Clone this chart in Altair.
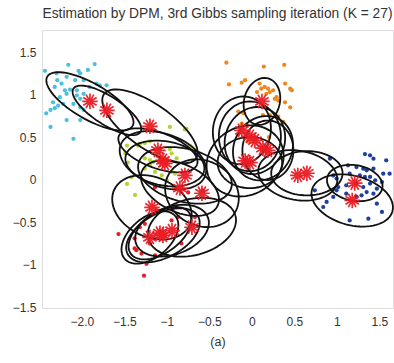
import numpy as np
import pandas as pd
import altair as alt

# ---------------- data ----------------
cyan_x = [-2.435, -2.30, -2.16, -2.04, -2.02, -1.93, -1.85, -2.29, -2.24, -2.18, -2.08, -1.98, -1.83, -1.79,
          -1.71, -2.32, -2.20, -2.14, -2.06, -1.91, -2.18, -2.06, -1.98, -2.02, -2.26, -2.34, -2.28, -2.22,
          -2.10, -2.02, -1.98, -2.42, -2.37, -2.32, -2.18, -2.02, -2.37, -2.10]
cyan_y = [1.28, 1.25, 1.35, 1.28, 1.25, 1.29, 1.36, 1.17, 1.13, 1.21, 1.17, 1.17, 1.13, 1.11,
          1.11, 1.09, 1.05, 1.06, 1.05, 1.09, 1.01, 0.99, 1.01, 0.95, 0.97, 0.91, 0.87, 0.89,
          0.89, 0.85, 0.82, 0.78, 0.82, 0.84, 0.70, 0.70, 0.62, 0.48]

orange_x = [-0.30, 0.14, 0.38, -0.27, -0.12, -0.08, 0.09, 0.15, 0.19, 0.21, 0.17, 0.39, 0.45, 0.47,
            0.27, 0.31, 0.39, 0.45, -0.16, -0.10, 0.13, 0.21, 0.31, 0.37, -0.12, -0.06, 0.11, 0.06,
            0.25, 0.29, -0.15, -0.05, 0.12, 0.20]
orange_y = [1.376, 1.33, 1.35, 1.12, 1.14, 1.17, 1.13, 1.09, 1.07, 1.03, 1.01, 1.13, 1.07, 1.05,
            0.95, 0.93, 0.91, 0.85, 0.80, 0.78, 0.76, 0.76, 0.74, 0.68, 0.66, 0.64, 1.07, 1.03,
            1.05, 0.97, 0.55, 0.45, 0.35, 0.50]

green_x = [-0.965, -0.79, -1.49, -1.46, -1.34, -1.26, -1.20, -1.26, -1.20, -1.16, -1.20, -1.12, -0.945,
           -0.886, -0.71, -1.415, -1.47, -1.376, -1.26, -1.14, -1.06, -0.945, -0.906, -1.00, -0.965,
           -1.08, -0.77, -1.47, -1.32, -0.73]
green_y = [0.62, 0.59, 0.31, 0.20, 0.40, 0.43, 0.45, 0.25, 0.23, 0.21, 0.17, 0.31, 0.31,
           0.25, 0.38, 0.03, -0.05, -0.18, 0.13, 0.09, 0.05, 0.09, 0.07, -0.01, 0.36,
           0.36, 0.60, 0.40, 0.42, 0.40]

red_x = [-1.57, -1.27, -1.24, -1.38, -1.30, -1.14, -1.02, -0.91, -1.32, -1.26, -1.14, -0.75, -1.20,
         -0.83, -1.38, -0.945, -0.87, -0.67, -1.12, -1.36, -0.58]
red_y = [-0.64, -1.13, -0.99, -0.81, -0.87, -0.89, -0.89, -0.89, -0.56, -0.52, -0.09, -0.15, -0.75,
         -0.75, -0.69, -0.48, -0.44, -0.44, -0.36, -0.83, -0.13]

blue_x = [0.918, 1.33, 1.39, 1.43, 1.58, 1.13, 1.23, 1.31, 1.35, 1.43, 1.545, 1.62, 0.957, 0.996,
          1.15, 1.27, 1.33, 1.39, 1.45, 1.53, 1.015, 1.11, 1.23, 1.31, 1.39, 1.47, 1.35, 1.43,
          1.11, 0.996, 0.879, 0.839, 1.47, 1.53, 1.15, 1.37, 0.74, 0.957, 1.23, 1.29]
blue_y = [0.247, 0.30, 0.286, 0.247, 0.227, 0.168, 0.148, 0.129, 0.109, 0.129, 0.07, 0.07, 0.05, 0.012,
          0.07, 0.05, 0.031, 0.031, -0.008, -0.028, -0.087, -0.067, -0.047, -0.087, -0.047, -0.106, -0.146, -0.165,
          -0.165, -0.126, -0.263, -0.322, -0.283, -0.38, -0.48, -0.46, -0.126, -0.204, -0.204, -0.185]

# 27 mixture components: centre, semi-axes and orientation (degrees)
comp_x = [-1.906, -1.706, -1.20, -1.047, -1.024, -0.788, -0.847, -0.588, -1.176, -1.047, -1.082, -0.94,
          -1.20, -0.706, 0.118, -0.118, -0.024, 0.035, 0.13, 0.188, -0.024, 0.54, 0.647, 1.21, 1.18,
          -1.106, -0.08]
comp_y = [0.921, 0.815, 0.627, 0.227, 0.19, 0.05, -0.10, -0.16, -0.326, -0.655, -0.63, -0.60,
          -0.68, -0.56, 0.92, 0.58, 0.51, 0.46, 0.37, 0.345, 0.20, 0.05, 0.075, -0.04, -0.245,
          0.345, 0.22]
comp_a = [0.58, 0.47, 0.66, 0.53, 0.47, 0.565, 0.49, 0.45, 0.49, 0.47, 0.42, 0.45,
          0.39, 0.53, 0.28, 0.40, 0.41, 0.40, 0.39, 0.35, 0.38, 0.47, 0.42, 0.33, 0.49,
          0.49, 0.47]
comp_b = [0.21, 0.165, 0.26, 0.31, 0.26, 0.31, 0.28, 0.38, 0.35, 0.26, 0.235, 0.28,
          0.235, 0.33, 0.21, 0.34, 0.365, 0.35, 0.34, 0.30, 0.30, 0.29, 0.26, 0.21, 0.29,
          0.21, 0.40]
comp_ang = [-30, -33, -35, -20, -10, -15, -25, -30, -25, 28, 35, 20,
            40, 15, 75, 80, 90, 70, 60, 90, 0, -10, 0, -10, -15,
            -20, 30]

x_ticks = [-2.0, -1.5, -1.0, -0.5, 0.0, 0.5, 1.0, 1.5]
y_ticks = [-1.5, -1.0, -0.5, 0.0, 0.5, 1.0, 1.5]
title_text = "Estimation by DPM, 3rd Gibbs sampling iteration (K = 27)"
caption = "(a)"

# ---------------- tables ----------------
groups = [("cyan", cyan_x, cyan_y), ("orange", orange_x, orange_y), ("green", green_x, green_y),
          ("red", red_x, red_y), ("blue", blue_x, blue_y)]
pts = pd.DataFrame([{"g": g, "x": x, "y": y} for g, xs, ys in groups for x, y in zip(xs, ys)])

rows = []
t = np.linspace(0, 2 * np.pi, 73)
for k in range(len(comp_x)):
    th = np.deg2rad(comp_ang[k])
    ex = comp_x[k] + comp_a[k] * np.cos(t) * np.cos(th) - comp_b[k] * np.sin(t) * np.sin(th)
    ey = comp_y[k] + comp_a[k] * np.cos(t) * np.sin(th) + comp_b[k] * np.sin(t) * np.cos(th)
    for i in range(len(t)):
        rows.append({"k": k, "i": i, "x": ex[i], "y": ey[i]})
ell = pd.DataFrame(rows)
centres = pd.DataFrame({"x": comp_x, "y": comp_y})

xdom = [-2.47, 1.66]
ydom = [-1.51, 1.76]
x_label = ("datum.value == -2 ? '\u22122.0' : replace(format(datum.value, '~g'), '-', '\u2212')")
y_label = "replace(format(datum.value, '~g'), '-', '\u2212')"

xs = alt.Scale(domain=xdom, nice=False, zero=False)
ys = alt.Scale(domain=ydom, nice=False, zero=False)
xax = alt.Axis(values=x_ticks, labelExpr=x_label, grid=False, domain=False, ticks=False,
               labelPadding=8, labelFontSize=12, labelColor="#333333", labelFont="Liberation Sans",
               title=caption, titleFontSize=12.5, titleFontWeight="normal", titleColor="#333333",
               titleFont="Liberation Sans", titlePadding=8)
yax = alt.Axis(values=y_ticks, labelExpr=y_label, grid=False, domain=False, ticks=False,
               labelPadding=6, labelFontSize=12, labelColor="#333333", labelFont="Liberation Sans",
               title=None)

colors = alt.Scale(domain=["cyan", "orange", "green", "red", "blue"],
                   range=["#4cbfdb", "#f0871c", "#b4d236", "#e31e25", "#1d3f9e"])

points = alt.Chart(pts).mark_circle(size=18, opacity=1).encode(
    x=alt.X("x:Q", scale=xs, axis=xax),
    y=alt.Y("y:Q", scale=ys, axis=yax),
    color=alt.Color("g:N", scale=colors, legend=None),
)

ellipses = alt.Chart(ell).mark_line(color="#111111", strokeWidth=1.8).encode(
    x=alt.X("x:Q", scale=xs),
    y=alt.Y("y:Q", scale=ys),
    detail="k:N",
    order="i:Q",
)

star_path = ("M-1,0L1,0M-0.866,-0.5L0.866,0.5M-0.5,-0.866L0.5,0.866M0,-1L0,1"
             "M0.5,-0.866L-0.5,0.866M0.866,-0.5L-0.866,0.5")
stars = alt.Chart(centres).mark_point(shape=star_path, size=240, strokeWidth=1.7,
                                      color="#ea1c24", opacity=0.95, filled=False).encode(
    x=alt.X("x:Q", scale=xs),
    y=alt.Y("y:Q", scale=ys),
)

chart = alt.layer(points, ellipses, stars).properties(
    width=351, height=278,
    title=alt.TitleParams(title_text, fontSize=13.8, fontWeight="normal", color="#333333",
                          font="Liberation Sans", anchor="middle", offset=9),
    autosize=alt.AutoSizeParams(type="none"),
    padding={"left": 42, "top": 30, "right": 1, "bottom": 55},
).configure_view(stroke="#9a9a9a", strokeWidth=1).configure(background="white")

chart.save("out.html", embed_options={"renderer": "svg", "actions": False})
